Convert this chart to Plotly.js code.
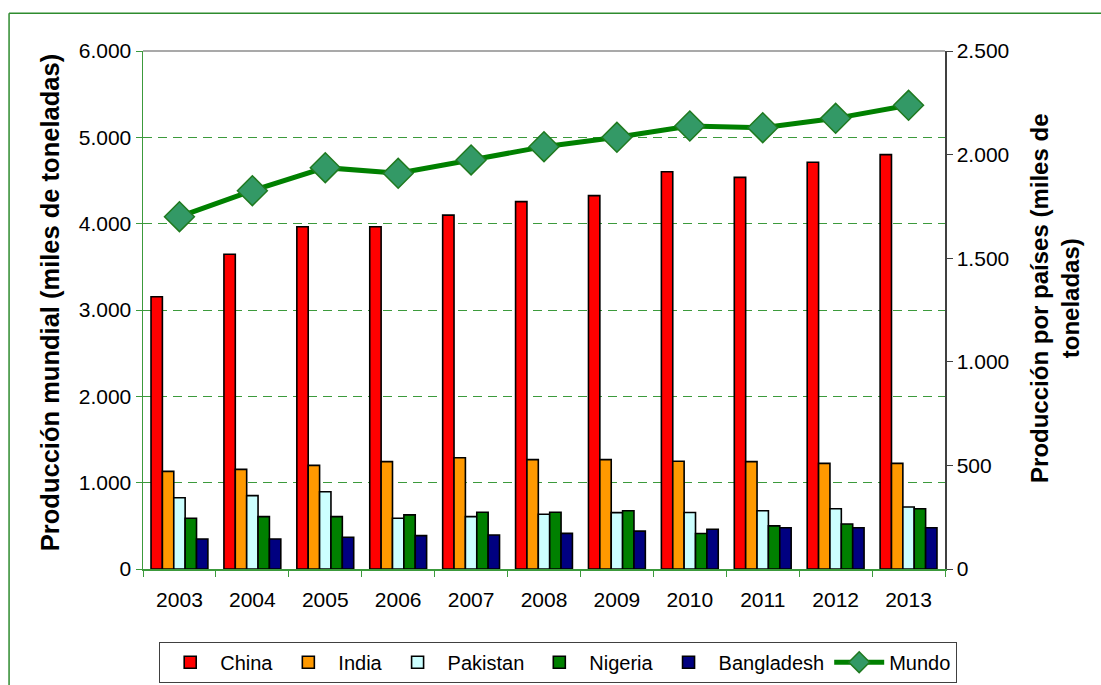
<!DOCTYPE html>
<html>
<head>
<meta charset="utf-8">
<script src="https://cdn.plot.ly/plotly-3.0.1.min.js"></script>
<style>
html,body{margin:0;padding:0;background:#fff;}
#chart{width:1101px;height:685px;}
</style>
</head>
<body>
<div id="chart"></div>
<script>
// Data (thousand tonnes)
const years = ['2003','2004','2005','2006','2007','2008','2009','2010','2011','2012','2013'];
const china      = [1314, 1519, 1652, 1652, 1708, 1773, 1802, 1917, 1890, 1963, 2000];
const india      = [471, 481, 500, 518, 537, 528, 528, 520, 518, 510, 510];
const pakistan   = [344, 354, 373, 245, 253, 264, 272, 273, 281, 291, 299];
const nigeria    = [245, 253, 253, 261, 274, 274, 281, 171, 208, 217, 291];
const bangladesh = [145, 145, 153, 161, 164, 172, 183, 192, 199, 199, 199];
const mundo      = [4081, 4382, 4649, 4583, 4738, 4892, 5000, 5131, 5112, 5220, 5371];

const seriesNames = ['China','India','Pakistan','Nigeria','Bangladesh'];
const seriesVals = [china, india, pakistan, nigeria, bangladesh];
const seriesColors = ['#FF0000','#FF9900','#CCFFFF','#008000','#000080'];
const leftTitle = 'Producción mundial (miles de toneladas)';
const rightTitle = 'Producción por países (miles de<br>toneladas)';

const FONT = 'Liberation Sans, Arial, sans-serif';
const TICK = 21;
const traces = seriesNames.map((n,i)=>({
  type:'bar', name:n, x:years, y:seriesVals[i], yaxis:'y2',
  marker:{color:seriesColors[i], line:{color:'#000000', width:1.6}},
  hoverinfo:'x+y+name'
}));
traces.push({
  type:'scatter', mode:'lines+markers', name:'Mundo', x:years, y:mundo, yaxis:'y',
  line:{color:'#008000', width:5},
  marker:{symbol:'diamond', size:23, color:'#339966', line:{color:'#1f7a1f', width:1.5}}
});

const layout = {
  width:1101, height:685,
  margin:{l:143, r:156, t:51, b:116, autoexpand:false},
  paper_bgcolor:'#ffffff', plot_bgcolor:'#ffffff',
  separators:',.',
  font:{family:FONT, size:TICK, color:'#000000'},
  barmode:'group', bargap:0.22, bargroupgap:0,
  showlegend:true,
  legend:{orientation:'h', xref:'container', x:0.507, xanchor:'center', y:-0.18, yanchor:'middle',
    bordercolor:'#404040', borderwidth:1, bgcolor:'#ffffff',
    font:{family:FONT, size:20, color:'#000'}, itemwidth:50, tracegroupgap:0},
  xaxis:{type:'category', range:[-0.5, 10.5], autorange:false, showline:true, linecolor:'#3c9a3c', linewidth:1.5,
    ticks:'outside', tickson:'boundaries', ticklen:6, tickcolor:'#3c9a3c',
    tickfont:{family:FONT, size:TICK}, ticklabelstandoff:11, showgrid:false, zeroline:false},
  yaxis:{range:[0,6000], dtick:1000, tickformat:',d', side:'left',
    showline:true, linecolor:'#3c9a3c', linewidth:1.5, ticks:'outside', ticklen:6, tickcolor:'#3c9a3c',
    showgrid:true, gridcolor:'#3c9a3c', gridwidth:1, griddash:'9px,6px', zeroline:false,
    tickfont:{family:FONT, size:TICK}},
  yaxis2:{range:[0,2500], dtick:500, tickformat:',d', overlaying:'y', side:'right',
    showline:true, linecolor:'#404040', linewidth:1.5, ticks:'outside', ticklen:6, tickcolor:'#404040',
    showgrid:false, zeroline:false, tickfont:{family:FONT, size:TICK}},
  annotations:[
    {text:leftTitle, xref:'paper', yref:'paper', x:-0.116, y:0.515, xanchor:'center', yanchor:'middle',
     textangle:-90, showarrow:false, font:{family:FONT, size:25.5, weight:'bold', color:'#000'}},
    {text:rightTitle, xref:'paper', yref:'paper', x:1.137, y:0.523, xanchor:'center', yanchor:'middle',
     textangle:-90, showarrow:false, align:'center', font:{family:FONT, size:24, weight:'bold', color:'#000'}}
  ],
  shapes:[
    {type:'line', xref:'paper', yref:'paper', x0:0, x1:1, y0:1, y1:1, line:{color:'#8c8c8c', width:1.5}},
    {type:'line', xref:'paper', yref:'paper', x0:-0.167, x1:1.3, y0:1.073, y1:1.073, line:{color:'#2e8b2e', width:1.5}},
    {type:'line', xref:'paper', yref:'paper', x0:-0.167, x1:-0.167, y0:1.073, y1:-0.5, line:{color:'#2e8b2e', width:1.5}}
  ]
};

Plotly.newPlot('chart', traces, layout, {displayModeBar:false, staticPlot:true});
</script>
</body>
</html>
